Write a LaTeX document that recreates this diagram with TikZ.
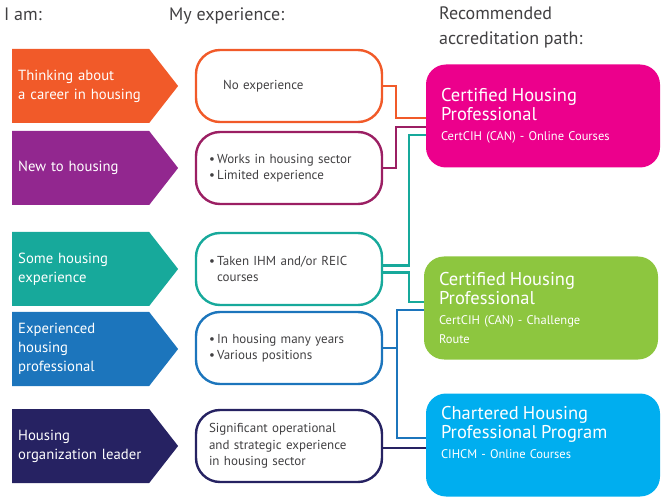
\documentclass[tikz,border=0pt]{standalone}
\usepackage{fontspec}
\setmainfont{PT Sans}
\usetikzlibrary{shapes.symbols, positioning}

\definecolor{cOrange}{HTML}{F15A29}
\definecolor{cPurple}{HTML}{92278F}
\definecolor{cPlum}{HTML}{9B1F63}
\definecolor{cTeal}{HTML}{17A99B}
\definecolor{cBlue}{HTML}{1C75BC}
\definecolor{cNavy}{HTML}{262262}
\definecolor{cPink}{HTML}{EC008C}
\definecolor{cGreen}{HTML}{8DC63F}
\definecolor{cCyan}{HTML}{00AEEF}
\definecolor{cText}{HTML}{414042}

\newcommand{\pathtitle}{\fontsize{18.5}{19.5}\selectfont}

\begin{document}
\begin{tikzpicture}[x=1pt, y=-1pt,
  head/.style={anchor=north west, inner sep=0pt, align=left, text=cText, font=\fontsize{18}{25}\selectfont},
  iam/.style={signal, signal to=east, signal pointer angle=104, anchor=west, minimum height=74pt,
    text width=125pt, align=left, inner sep=6pt, text=white, font=\fontsize{14.7}{19}\selectfont},
  expbox/.style={draw, line width=2.4pt, rounded corners=24pt, minimum width=186pt, minimum height=72pt,
    text width=160pt, align=left, inner xsep=12pt, text=cText, font=\fontsize{13}{16.5}\selectfont},
  pathbox/.style={rounded corners=20pt, minimum width=234pt, minimum height=103pt, text width=204pt,
    align=left, inner xsep=15pt, text=white, font=\fontsize{12.5}{19}\selectfont},
  conn/.style={line width=2.4pt}]
\useasboundingbox (0,0) rectangle (665,500);

% column heads
\node[head] (h1) at (4,8) {I am:};
\node[head] (h2) at (169,8) {My experience:};
\node[head] (h3) at (439,7) {Recommended\\accreditation path:};

% I am
\node[iam, fill=cOrange] (iam1) at (12,86) {Thinking about\\a career in housing};
\node[iam, fill=cPurple] (iam2) at (12,168) {New to housing};
\node[iam, fill=cTeal] (iam3) at (12,269) {Some housing\\experience};
\node[iam, fill=cBlue] (iam4) at (12,349) {Experienced\\housing\\professional};
\node[iam, fill=cNavy] (iam5) at (12,446) {Housing\\organization leader};

% my experience
\node[expbox, draw=cOrange] (exp1) at (289,86) {\hspace*{14pt}No experience};
\node[expbox, draw=cPlum] (exp2) at (289,168) {\textbullet\,Works in housing sector\\\textbullet\,Limited experience};
\node[expbox, draw=cTeal] (exp3) at (289,269) {\textbullet\,Taken IHM and/or REIC\\\phantom{\textbullet\,}courses};
\node[expbox, draw=cBlue] (exp4) at (289,348) {\textbullet\,In housing many years\\\textbullet\,Various positions};
\node[expbox, draw=cNavy] (exp5) at (289,446) {Significant operational\\and strategic experience\\in housing sector};

% accreditation paths
\node[pathbox, fill=cPink] (cert1) at (543,116) {{\pathtitle Certified Housing\\Professional}\\[1pt]CertCIH (CAN) - Online Courses};
\node[pathbox, fill=cGreen] (cert2) at (541,308) {{\pathtitle Certified Housing\\Professional}\\[1pt]CertCIH (CAN) - Challenge\\Route};
\node[pathbox, fill=cCyan] (cert3) at (543,445) {{\pathtitle Chartered Housing\\Professional Program}\\[1pt]CIHCM - Online Courses\\\strut};

% connectors
\draw[conn, cOrange] (exp1.east) -- ++(13,0) |- (cert1.west |- 0,118);
\draw[conn, cPlum] (exp2.east) -- ++(13,0) |- (cert1.west |- 0,127);
\draw[conn, cTeal] ([yshift=3.5pt]exp3.east) -- ++(26,0) |- (cert1.west |- 0,135);
\draw[conn, cTeal] ([yshift=-3.5pt]exp3.east) -- ++(26,0) |- (cert2.west |- 0,302);
\draw[conn, cBlue] (exp4.east) -- ++(14,0) coordinate (bj) |- (cert2.west |- 0,310);
\draw[conn, cBlue] (bj) |- (cert3.west |- 0,438);
\draw[conn, cNavy] ([yshift=-2pt]exp5.east) -- ([yshift=-2pt]exp5.east -| cert3.west);
\end{tikzpicture}
\end{document}
